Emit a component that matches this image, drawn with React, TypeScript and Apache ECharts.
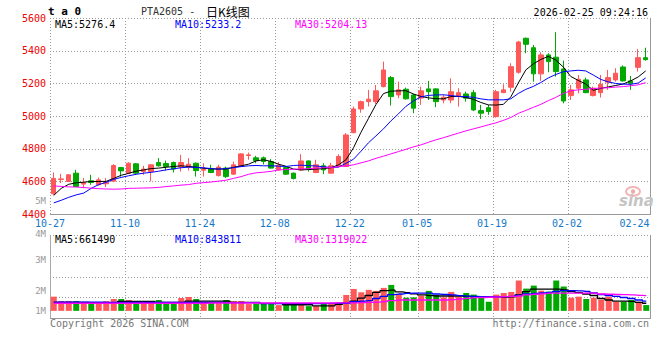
import React, { useEffect, useRef } from "react";
import * as echarts from "echarts";

const dates = [
  "10-27","10-28","10-29","10-30","10-31","11-03","11-04","11-05","11-06","11-07",
  "11-10","11-11","11-12","11-13","11-14","11-17","11-18","11-19","11-20","11-21",
  "11-24","11-25","11-26","11-27","11-28","12-01","12-02","12-03","12-04","12-05",
  "12-08","12-09","12-10","12-11","12-12","12-15","12-16","12-17","12-18","12-19",
  "12-22","12-23","12-24","12-25","12-26","12-29","12-30","12-31","01-02",
  "01-05","01-06","01-07","01-08","01-09","01-12","01-13","01-14","01-15","01-16",
  "01-19","01-20","01-21","01-22","01-23","01-26","01-27","01-28","01-29","01-30",
  "02-02","02-03","02-04","02-05","02-06","02-09","02-10","02-11","02-12",
  "02-24","02-25",
];
const labelDates = ["10-27","11-10","11-24","12-08","12-22","01-05","01-19","02-02","02-24"];
const gridDates = ["11-10","11-24","12-08","12-22","01-05","01-19","02-02"];
const priceTicks = [4400, 4600, 4800, 5000, 5200, 5400, 5600];
const volGridValues = [-620000, 1180000, 2980000, 4780000, 6580000];

const opens = [4524,4611,4599,4650,4583,4603,4579,4585,4601,4684,
4650,4707,4660,4660,4715,4709,4715,4687,4687,4711,
4668,4676,4635,4681,4644,4691,4758,4744,4744,4721,
4670,4684,4650,4670,4725,4654,4695,4650,4691,4691,
4898,5043,5088,5088,5180,5235,5129,5164,5129,5110,
5166,5166,5098,5098,5123,5135,5143,5033,5051,4996,
5143,5176,5268,5476,5418,5258,5374,5360,5288,5125,
5170,5221,5125,5143,5207,5221,5300,5215,5298,5357];
const closes = [4618,4615,4640,4568,4593,4593,4609,4595,4697,4664,
4711,4650,4675,4701,4695,4691,4675,4715,4705,4666,
4674,4654,4687,4629,4701,4768,4762,4727,4722,4681,
4699,4644,4617,4725,4675,4701,4670,4695,4752,4884,
5043,5088,5103,5154,5282,5119,5160,5105,5048,5154,
5149,5088,5115,5149,5143,5109,5037,5017,5027,5149,
5160,5302,5453,5439,5258,5374,5333,5272,5092,5160,
5225,5143,5170,5194,5235,5262,5215,5200,5357,5345];
const lows = [4515,4589,4595,4565,4558,4579,4575,4565,4595,4629,
4645,4645,4640,4600,4690,4666,4654,4660,4666,4629,
4629,4650,4630,4620,4640,4688,4732,4711,4703,4678,
4666,4640,4612,4664,4660,4650,4644,4648,4688,4688,
4895,5020,5058,5074,5175,5064,5109,5100,5017,5068,
5098,5054,5078,5078,5058,5088,5030,4982,5007,4990,
5140,5149,5259,5384,5210,5215,5268,5241,5078,5098,
5139,5140,5120,5113,5160,5210,5210,5160,5272,5339];
const highs = [4654,4646,4645,4670,4620,4640,4623,4620,4705,4688,
4717,4712,4695,4705,4742,4727,4721,4762,4742,4715,
4711,4701,4701,4690,4721,4772,4776,4756,4752,4736,
4717,4690,4654,4766,4728,4732,4711,4713,4766,4895,
5058,5094,5160,5190,5333,5245,5210,5174,5135,5180,
5215,5170,5129,5231,5170,5149,5160,5068,5068,5160,
5194,5323,5460,5480,5435,5390,5384,5513,5339,5190,
5251,5235,5180,5251,5282,5292,5310,5245,5410,5418];

const ma5 = [4514,4557,4582,4591,4595,4599,4599,4600,4618,4637,
4649,4662,4670,4678,4681,4686,4691,4695,4691,4687,
4680,4676,4675,4675,4686,4695,4705,4725,4732,4722,
4705,4692,4675,4670,4672,4675,4678,4683,4701,4732,
4805,4900,4985,5070,5137,5152,5154,5155,5135,5120,
5111,5106,5105,5119,5120,5114,5102,5083,5068,5067,
5071,5117,5202,5282,5319,5346,5365,5343,5300,5242,
5218,5196,5157,5169,5178,5187,5196,5215,5239,5276];
const ma10 = [4468,4484,4502,4517,4528,4557,4580,4594,4612,4624,
4634,4643,4650,4655,4662,4670,4677,4683,4687,4685,
4683,4678,4675,4678,4684,4690,4695,4697,4695,4695,
4693,4691,4697,4699,4696,4694,4689,4685,4687,4710,
4735,4784,4836,4878,4921,4970,5013,5059,5092,5117,
5126,5129,5130,5125,5120,5119,5114,5105,5099,5099,
5099,5105,5138,5163,5181,5205,5233,5254,5271,5276,
5280,5276,5251,5224,5209,5199,5195,5194,5202,5233];
const ma30 = [4572,4569,4566,4565,4562,4558,4555,4553,4552,4553,
4557,4558,4559,4560,4563,4568,4572,4577,4580,4588,
4592,4596,4601,4607,4618,4629,4643,4652,4656,4661,
4670,4672,4674,4676,4678,4681,4683,4685,4689,4695,
4701,4713,4725,4741,4754,4768,4782,4796,4811,4823,
4839,4854,4867,4881,4895,4909,4921,4933,4946,4958,
4973,4991,5016,5034,5053,5071,5094,5114,5138,5154,
5160,5164,5168,5171,5173,5177,5180,5185,5191,5204];

const volumes = [1230000,850000,850000,850000,700000,760000,700000,850000,1030000,1030000,
940000,700000,700000,850000,940000,700000,700000,1110000,1200000,1030000,
790000,790000,790000,940000,850000,850000,590000,640000,640000,640000,
500000,500000,500000,500000,410000,410000,640000,650000,740000,1380000,
1900000,1610000,1820000,1730000,1990000,2250000,1440000,1140000,1170000,1320000,
1730000,1380000,1170000,1640000,1230000,1550000,1410000,1230000,790000,1410000,
1550000,1640000,2630000,1930000,2190000,1750000,1670000,2630000,2110000,1140000,
1230000,1030000,1140000,970000,1230000,790000,790000,940000,790000,500000];
const volMa5 = [740000,740000,740000,740000,740000,720000,720000,720000,720000,820000,
820000,820000,820000,820000,740000,740000,740000,740000,850000,850000,
850000,850000,850000,850000,740000,740000,740000,740000,650000,650000,
650000,530000,530000,530000,530000,440000,440000,440000,560000,680000,
850000,1110000,1330000,1600000,1750000,1790000,1640000,1580000,1480000,1380000,
1320000,1290000,1290000,1290000,1290000,1250000,1200000,1180000,1180000,1200000,
1200000,1220000,1380000,1670000,1880000,1880000,1880000,1880000,1820000,1680000,
1580000,1460000,1330000,1070000,940000,850000,850000,820000,740000,660000];
const volMa10 = [760000,760000,760000,760000,760000,760000,760000,740000,740000,740000,
740000,740000,740000,740000,740000,740000,740000,740000,740000,740000,
740000,740000,740000,720000,720000,720000,720000,720000,620000,620000,
620000,620000,620000,620000,620000,620000,620000,650000,650000,650000,
790000,850000,890000,1070000,1250000,1400000,1460000,1510000,1530000,1530000,
1530000,1460000,1420000,1380000,1320000,1270000,1250000,1230000,1230000,1230000,
1230000,1250000,1350000,1460000,1510000,1550000,1610000,1680000,1750000,1750000,
1730000,1680000,1550000,1420000,1330000,1250000,1160000,1070000,940000,840000];
const volMa30 = [660000,660000,660000,660000,660000,660000,660000,660000,660000,660000,
660000,660000,660000,660000,660000,660000,660000,660000,660000,660000,
660000,680000,680000,680000,680000,680000,680000,680000,680000,680000,
680000,680000,680000,680000,680000,680000,680000,680000,700000,700000,
700000,720000,740000,760000,810000,880000,940000,940000,940000,940000,
940000,940000,940000,980000,1030000,1090000,1140000,1160000,1180000,1200000,
1230000,1260000,1290000,1380000,1440000,1480000,1530000,1530000,1530000,1530000,
1530000,1530000,1530000,1460000,1440000,1420000,1400000,1380000,1350000,1320000];

const priceLegend = ["MA5:5276.4", "MA10:5233.2", "MA30:5204.13"];
const volLegend = ["MA5:661490", "MA10:843811", "MA30:1319022"];
const volTickLabels = ["5M", "4M", "3M", "2M", "1M"];
const titleCode = "PTA2605 -";
const titleName = "日K线图";
const timeStamp = "2026-02-25 09:24:16";

const RED = "#ff5858";
const GREEN = "#00a800";
const MONO = "DejaVu Sans Mono, monospace";

const G_LEFT = 50;
const G_WIDTH = 600;
const P_TOP = 18;
const P_HEIGHT = 196;
const V_TOP = 235;
const V_HEIGHT = 83;

export default function App() {
  const ref = useRef<HTMLDivElement>(null);
  useEffect(() => {
    if (!ref.current) return;
    const chart = echarts.init(ref.current, null, { renderer: "svg" });
    const labelSet = new Set(labelDates);
    const candles = opens.map((o, i) => [o, closes[i], lows[i], highs[i]]);
    const volData = volumes.map((v, i) => ({
      value: v,
      itemStyle: { color: closes[i] >= opens[i] ? RED : GREEN },
    }));
    const maColors = ["#000000", "#0000ff", "#ff00ff"];
    const legendX = [55, 175, 295];
    const volLabelY = [201, 234, 260, 291, 311];

    const pMin = priceTicks[0];
    const pMax = priceTicks[priceTicks.length - 1];
    const vMin = volGridValues[0];
    const vMax = volGridValues[volGridValues.length - 1];
    const py = (v: number) => Math.round(P_TOP + ((pMax - v) / (pMax - pMin)) * P_HEIGHT);
    const vy = (v: number) => Math.round(V_TOP + ((vMax - v) / (vMax - vMin)) * V_HEIGHT);
    const slot = G_WIDTH / dates.length;
    const L = G_LEFT;
    const R = G_LEFT + G_WIDTH;

    const graphics: any[] = [];
    const DOT = "#9a9a9a";
    const SOLID = "#999999";
    const px1 = (x: number, y: number, w: number, h: number, fill: string) =>
      graphics.push({ type: "rect", silent: true, z: 0, shape: { x, y, width: w, height: h }, style: { fill } });
    const dotH = (y: number, x1: number, x2: number) => {
      for (let x = x1; x <= x2; x += 3) px1(x, y, 1, 1, DOT);
    };
    const dotV = (x: number, y1: number, y2: number) => {
      for (let y = y1; y <= y2; y += 3) px1(x, y, 1, 1, DOT);
    };

    const pTop = py(pMax);
    const pBot = py(pMin);
    priceTicks.slice(1).forEach((t) => dotH(py(t), L, R));
    dotV(L, pTop, pBot);
    px1(L, pBot, R - L + 1, 1, SOLID);
    px1(R, pTop, 1, pBot - pTop + 1, SOLID);

    const vTop = vy(vMax);
    const vBot = vy(vMin);
    volGridValues.slice(1).forEach((t) => dotH(vy(t), L, R));
    px1(L, vTop, 1, vBot - vTop + 1, "#aaaaaa");
    px1(L, vBot, R - L + 1, 1, SOLID);
    px1(R, vTop, 1, vBot - vTop + 1, SOLID);

    gridDates.forEach((d) => {
      const x = Math.round(G_LEFT + dates.indexOf(d) * slot);
      dotV(x, pTop, pBot);
      dotV(x, vTop, vBot);
    });

    const txt = (text: string, x: number, y: number, fill: string, font: string, align = "left") => ({
      type: "text",
      x,
      y,
      silent: true,
      z: 10,
      style: { text, fill, font, align, verticalAlign: "middle", lineHeight: 9 },
    });

    graphics.push(
      txt("t a 0", 48, 11.5, "#000", `bold 11px ${MONO}`),
      txt(titleCode, 141, 11, "#333", `10px ${MONO}`),
      txt(titleName, 206, 11, "#000", `12px "Noto Sans CJK SC"`),
      txt(timeStamp, 648, 12, "#000", `10px ${MONO}`, "right"),
      txt("Copyright 2026 SINA.COM", 50, 323.5, "#777", `10px ${MONO}`),
      txt("http://finance.sina.com.cn", 649, 323.5, "#777", `10px ${MONO}`, "right"),
      {
        type: "ellipse",
        silent: true,
        shape: { cx: 633, cy: 191.5, rx: 7, ry: 4.5 },
        style: { fill: "none", stroke: "#f2b4b4", lineWidth: 2 },
      },
      {
        type: "circle",
        silent: true,
        shape: { cx: 633, cy: 191.5, r: 2.2 },
        style: { fill: "#eeaaaa" },
      },
      {
        type: "text",
        silent: true,
        x: 619,
        y: 201,
        style: {
          text: "sina",
          fill: "#c4c4c4",
          font: `italic bold 15px "DejaVu Sans"`,
          verticalAlign: "middle",
        },
      }
    );
    priceLegend.forEach((t, i) => graphics.push(txt(t, legendX[i], 24, maColors[i], `10px ${MONO}`)));
    volLegend.forEach((t, i) => graphics.push(txt(t, legendX[i], 239, maColors[i], `10px ${MONO}`)));
    volTickLabels.forEach((t, i) => graphics.push(txt(t, 46, volLabelY[i], "#999", `9px ${MONO}`, "right")));

    const hidden = {
      axisLine: { show: false },
      axisTick: { show: false },
      splitLine: { show: false },
    };

    chart.setOption({
      animation: false,
      backgroundColor: "#ffffff",
      grid: [
        { left: G_LEFT, top: P_TOP, width: G_WIDTH, height: P_HEIGHT },
        { left: G_LEFT, top: V_TOP, width: G_WIDTH, height: V_HEIGHT },
      ],
      xAxis: [
        {
          type: "category",
          gridIndex: 0,
          data: dates,
          boundaryGap: true,
          ...hidden,
          axisLabel: {
            interval: (_i: number, v: string) => labelSet.has(v),
            color: "#1478c8",
            fontFamily: MONO,
            fontSize: 10,
            lineHeight: 9,
            margin: 5,
            padding: [0, 7.5, 0, 0],
          },
        },
        {
          type: "category",
          gridIndex: 1,
          data: dates,
          boundaryGap: true,
          ...hidden,
          axisLabel: { show: false },
        },
      ],
      yAxis: [
        {
          type: "value",
          gridIndex: 0,
          min: pMin,
          max: pMax,
          interval: 200,
          ...hidden,
          axisLabel: {
            color: "#ee0000",
            fontFamily: MONO,
            fontSize: 10,
            lineHeight: 9,
            margin: 4,
            padding: [0, 0, 8, 0],
            formatter: (v: number) => String(v),
          },
        },
        {
          type: "value",
          gridIndex: 1,
          min: vMin,
          max: vMax,
          interval: 1800000,
          ...hidden,
          axisLabel: { show: false },
        },
      ],
      graphic: graphics,
      series: [
        {
          type: "candlestick",
          xAxisIndex: 0,
          yAxisIndex: 0,
          data: candles,
          barWidth: 5,
          itemStyle: {
            color: RED,
            color0: GREEN,
            borderColor: RED,
            borderColor0: GREEN,
            borderWidth: 1,
          },
          z: 2,
        },
        ...[ma5, ma10, ma30].map((d, i) => ({
          type: "line",
          xAxisIndex: 0,
          yAxisIndex: 0,
          data: d,
          showSymbol: false,
          symbol: "none",
          lineStyle: { color: maColors[i], width: 1 },
          z: 3,
        })),
        {
          type: "bar",
          xAxisIndex: 1,
          yAxisIndex: 1,
          data: volData,
          barWidth: 6,
          z: 2,
        },
        ...[volMa5, volMa10, volMa30].map((d, i) => ({
          type: "line",
          xAxisIndex: 1,
          yAxisIndex: 1,
          data: d,
          step: "middle",
          showSymbol: false,
          symbol: "none",
          lineStyle: { color: maColors[i], width: 1.3 },
          z: 3,
        })),
      ],
    });
    return () => chart.dispose();
  }, []);
  return (
    <div
      ref={ref}
      style={{ position: "fixed", left: 0, top: 0, width: 660, height: 360, background: "#fff" }}
    />
  );
}
